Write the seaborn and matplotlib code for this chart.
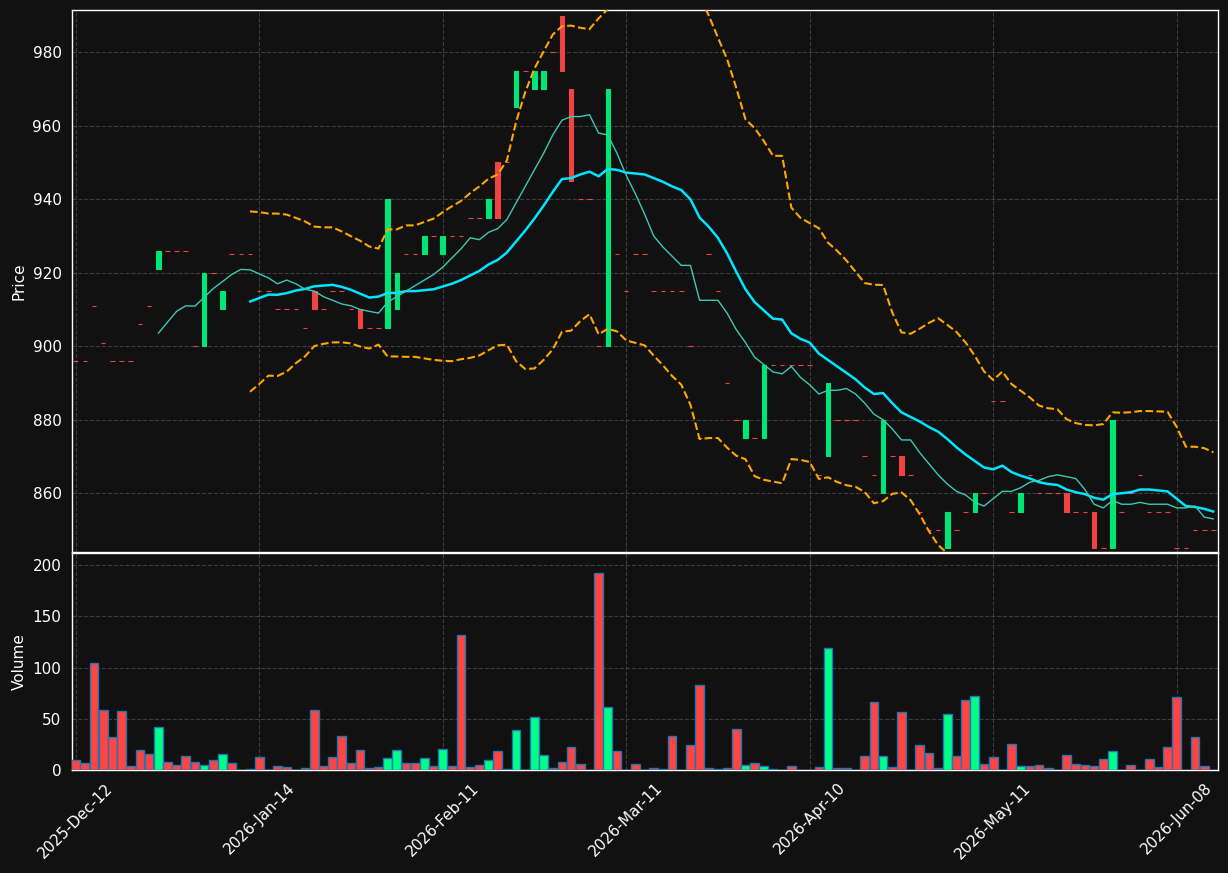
import numpy as np
import pandas as pd
import matplotlib
matplotlib.use("Agg")
import matplotlib.pyplot as plt
import seaborn as sns

# ---------------- data ----------------
closes = [896, 896, 911, 901, 896, 896, 896, 906, 911, 926,
          926, 926, 926, 900, 920, 920, 915, 925, 925, 925,
          915, 915, 910, 910, 910, 905, 910, 910, 915, 915,
          910, 905, 905, 905, 940, 920, 925, 925, 930, 930,
          930, 930, 930, 935, 935, 940, 935, 950, 975, 975,
          975, 975, 980, 975, 945, 940, 940, 900, 970, 925,
          915, 925, 925, 915, 915, 915, 915, 900, 875, 925,
          915, 890, 880, 880, 875, 895, 895, 895, 895, 895,
          895, 865, 890, 880, 880, 880, 870, 865, 880, 870,
          865, 865, 855, 850, 850, 855, 850, 855, 860, 860,
          885, 885, 855, 860, 865, 860, 860, 860, 855, 855,
          855, 845, 845, 880, 855, 860, 865, 855, 855, 855,
          845, 845, 850, 850, 850]

open_changes = {9: 921, 14: 900, 16: 910, 26: 915, 31: 910, 34: 905, 35: 910,
                38: 925, 40: 925, 45: 935, 46: 950, 48: 965, 50: 970, 51: 970,
                53: 990, 54: 970, 58: 900, 73: 875, 75: 875, 82: 870, 88: 860,
                90: 870, 95: 845, 98: 855, 103: 855, 108: 860, 111: 855, 113: 845}
opens = [open_changes.get(i, c) for i, c in enumerate(closes)]

volumes = [9.5, 6.5, 104.6, 58.5, 32, 57.5, 3.6, 20, 16, 42,
           7.5, 4.6, 13.4, 7.5, 4.6, 9.5, 15.4, 6.5, 0, 0.7,
           12.4, 0, 3.6, 2.6, 0, 1.6, 58.5, 3.6, 12.4, 33,
           6.5, 20, 1.6, 2.6, 11.4, 20, 6.5, 6.5, 11.4, 3.6,
           21, 3.6, 132, 2.6, 4.6, 9.5, 18.3, 0.5, 39, 0,
           51.6, 14.4, 1.6, 7.5, 22, 5.6, 0, 192.8, 61.4, 18.3,
           0, 5.6, 0, 1.6, 0.7, 33, 0, 24, 83, 1.6,
           0.7, 1.6, 40, 4.6, 6.5, 3.6, 0.7, 0, 3.6, 0,
           0, 2.6, 119, 1.6, 1.6, 0, 13.4, 66.3, 13.4, 2.6,
           56.5, 0, 24, 16.3, 1.6, 54.6, 13.4, 68.3, 72, 5.6,
           12.4, 0, 25, 3.6, 3.6, 4.6, 1.6, 0, 14.4, 5.6,
           4.6, 3.6, 10.5, 18.3, 0, 4.6, 0, 10.5, 2.6, 22,
           71, 0, 32, 3.6, 0]

tick_positions = [0, 20, 40, 60, 80, 100, 120]
tick_labels = ["2025-Dec-12", "2026-Jan-14", "2026-Feb-11", "2026-Mar-11",
               "2026-Apr-10", "2026-May-11", "2026-Jun-08"]

# ---------------- derived ----------------
df = pd.DataFrame({"open": opens, "close": closes, "volume": volumes})
df["idx"] = np.arange(len(df))
df["ma10"] = df["close"].rolling(10).mean()
df["ma20"] = df["close"].rolling(20).mean()
sd = df["close"].rolling(20).std(ddof=0)
df["upper"] = df["ma20"] + 2 * sd
df["lower"] = df["ma20"] - 2 * sd
up = df["close"] > df["open"]

# ---------------- style ----------------
sns.set_theme(style="dark")
BG = "#111111"
plt.rcParams.update({
    "font.family": ["DejaVu Sans"],
    "figure.facecolor": BG,
    "axes.facecolor": BG,
    "axes.edgecolor": "white",
    "axes.labelcolor": "white",
    "xtick.color": "white",
    "ytick.color": "white",
    "text.color": "white",
})

W, H = 1228, 873
fig = plt.figure(figsize=(W / 100, H / 100), dpi=100)
fig.patch.set_facecolor(BG)
L, R = 72, 1218
ax = fig.add_axes([L / W, (H - 552) / H, (R - L) / W, 542 / H])
axv = fig.add_axes([L / W, (H - 770) / H, (R - L) / W, 217 / H], sharex=ax)

CUP, CDN = "#00e676", "#f04444"
VUP, VDN = "#00ff88", "#ff4444"

# candles
bodies = (df["close"] - df["open"]).abs()
bottoms = df[["open", "close"]].min(axis=1)
ccol = [CUP if u else CDN for u in up]
ax.bar(df["idx"], bodies, bottom=bottoms, width=0.5, color=ccol,
       edgecolor=ccol, linewidth=0.8, zorder=3)

# indicator lines
sns.lineplot(data=df, x="idx", y="ma20", ax=ax, color="#00e5ff", linewidth=1.8, zorder=4)
sns.lineplot(data=df, x="idx", y="ma10", ax=ax, color="#3cc8b4", linewidth=1.0, zorder=4)
sns.lineplot(data=df, x="idx", y="upper", ax=ax, color="#ffa500", linewidth=1.5,
             linestyle="--", zorder=4)
sns.lineplot(data=df, x="idx", y="lower", ax=ax, color="#ffa500", linewidth=1.5,
             linestyle="--", zorder=4)

# volume
vcol = [VUP if u else VDN for u in up]
axv.bar(df["idx"], df["volume"], width=0.95, color=vcol, edgecolor="#1f77b4",
        linewidth=1.0, zorder=3)

for a in (ax, axv):
    a.set_facecolor(BG)
    a.grid(True, linestyle="--", color="#444444", linewidth=0.8, alpha=0.9)
    for s in a.spines.values():
        s.set_color("white")
        s.set_linewidth(1.0)
    a.tick_params(axis="both", colors="white", labelsize=11, length=4)

ax.set_xlim(-0.4, 124.5)
ax.set_ylim(844, 991.5)
ax.set_yticks([860, 880, 900, 920, 940, 960, 980])
ax.set_ylabel("Price", fontsize=11, color="white")
ax.set_xlabel("")
ax.tick_params(axis="x", labelbottom=False, length=0)

axv.set_ylim(0, 212)
axv.set_yticks([0, 50, 100, 150, 200])
axv.set_ylabel("Volume", fontsize=11, color="white")
axv.set_xticks(tick_positions)
axv.set_xticklabels(tick_labels, rotation=45, ha="center",
                    fontsize=11, color="white")
axv.set_xlabel("")

fig.savefig("out.png", dpi=100, facecolor=BG)
